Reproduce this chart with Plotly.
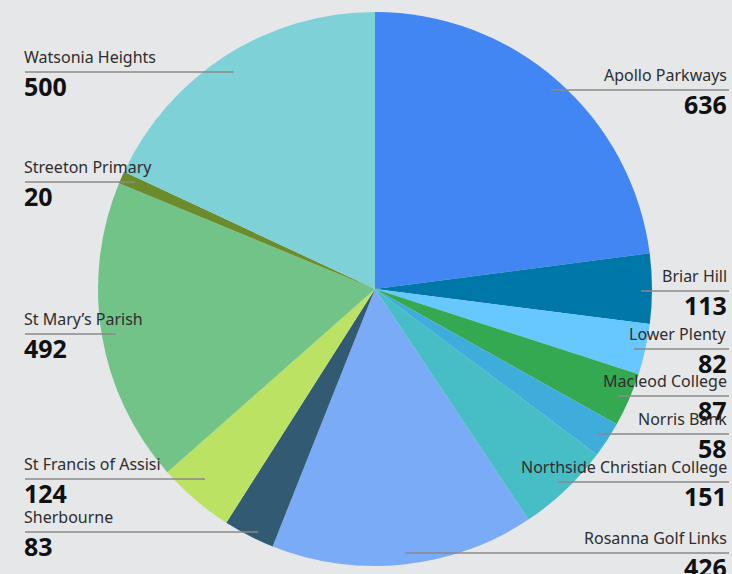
import plotly.graph_objects as go

labels = ["Apollo Parkways", "Briar Hill", "Lower Plenty", "Macleod College", "Norris Bank",
          "Northside Christian College", "Rosanna Golf Links", "Sherbourne",
          "St Francis of Assisi", "St Mary’s Parish", "Streeton Primary", "Watsonia Heights"]
values = [636, 113, 82, 87, 58, 151, 426, 83, 124, 492, 20, 500]

colors = ["#4286f4", "#0077a9", "#66c8fe", "#35a852", "#3eaddc", "#47bdc6",
          "#7aabf7", "#325a73", "#bce264", "#71c387", "#6a8c2c", "#7dd1d7"]

# label layout: (side, line_y, line_start_x, line_end_x) in pixels
W, H = 732, 574
label_layout = {
    "Apollo Parkways": ("right", 90, 551, 729),
    "Briar Hill": ("right", 291, 641, 729),
    "Lower Plenty": ("right", 349, 634, 729),
    "Macleod College": ("right", 396, 618, 729),
    "Norris Bank": ("right", 434, 598, 729),
    "Northside Christian College": ("right", 482, 558, 729),
    "Rosanna Golf Links": ("right", 553, 405, 729),
    "Sherbourne": ("left", 532, 25, 258),
    "St Francis of Assisi": ("left", 479, 25, 205),
    "St Mary’s Parish": ("left", 334, 25, 116),
    "Streeton Primary": ("left", 182, 25, 135),
    "Watsonia Heights": ("left", 72, 25, 234),
}

cx, cy, r = 375, 289, 277

fig = go.Figure(go.Pie(
    labels=labels, values=values, sort=False, direction="clockwise", rotation=0,
    marker=dict(colors=colors, line=dict(width=0)), textinfo="none",
    domain=dict(x=[(cx - r) / W, (cx + r) / W], y=[(H - cy - r) / H, (H - cy + r) / H]),
    showlegend=False, hoverinfo="label+value",
))

def px(x):
    return x / W

def py(y):
    return 1 - y / H

shapes = []
annotations = []
for lab, val in zip(labels, values):
    side, ly, x0, x1 = label_layout[lab]
    shapes.append(dict(type="line", xref="paper", yref="paper",
                       x0=px(x0), x1=px(x1), y0=py(ly), y1=py(ly),
                       line=dict(color="#8a8a8a", width=1.5), layer="above"))
    if side == "right":
        ax, anchor = px(729), "right"
    else:
        ax, anchor = px(22), "left"
    annotations.append(dict(xref="paper", yref="paper", x=ax, y=py(ly - 2),
                            xanchor=anchor, yanchor="bottom", text=lab, showarrow=False,
                            font=dict(family="Noto Sans", size=16, color="#2e2e2e")))
    annotations.append(dict(xref="paper", yref="paper", x=ax, y=py(ly - 5),
                            xanchor=anchor, yanchor="top", text="<b>%d</b>" % val,
                            showarrow=False,
                            font=dict(family="Noto Sans", size=25, color="#111111")))

fig.update_layout(width=W, height=H, margin=dict(l=0, r=0, t=0, b=0),
                  paper_bgcolor="#e6e7e9", plot_bgcolor="#e6e7e9",
                  shapes=shapes, annotations=annotations)

fig.write_html("out.html", config={"displayModeBar": False},
               post_script="document.body.style.margin='0';document.body.style.overflow='hidden';")
